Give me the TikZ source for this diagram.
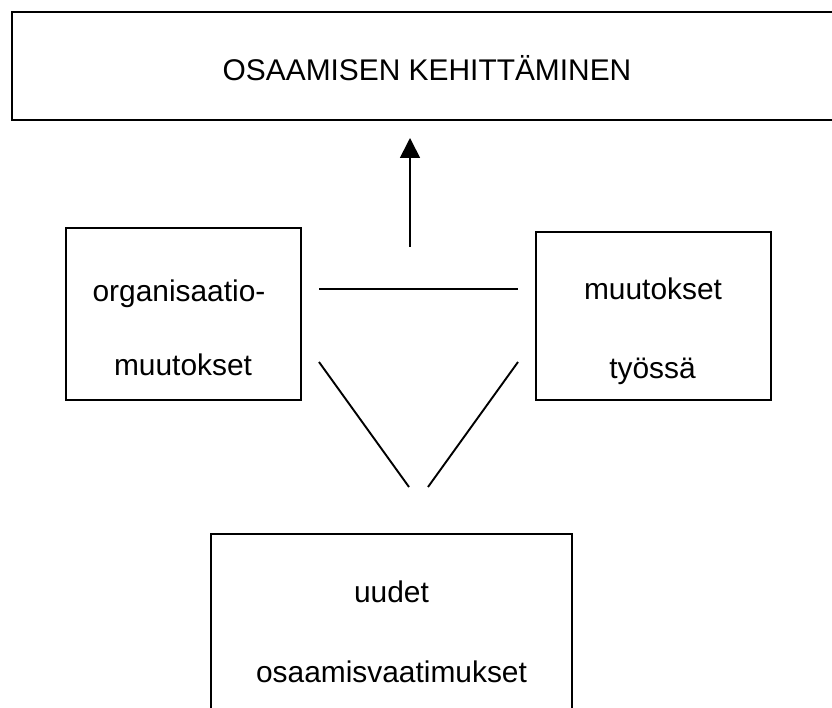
\documentclass[tikz,border=0pt]{standalone}
\usepackage{fontspec}
\setmainfont{Liberation Sans}
\usetikzlibrary{arrows.meta}
\begin{document}
\begin{tikzpicture}[x=1pt,y=-1pt,
  box/.style={draw, line width=1.7pt, inner sep=0pt, outer sep=0pt},
  lbl/.style={anchor=base, inner sep=0pt, font=\fontsize{29.9}{36}\selectfont},
  conn/.style={line width=1.9pt},
  arr/.style={line width=1.7pt, -{Triangle[width=20pt,length=20pt]}}]
\useasboundingbox (0,0) rectangle (832,708);
\clip (0,0) rectangle (832,708);
% boxes
\node[box, minimum width=828pt, minimum height=108pt] (top) at (426,66) {};
\node[box, minimum width=235pt, minimum height=172pt] (left) at (183.5,314) {};
\node[box, minimum width=235pt, minimum height=168pt] (right) at (653.5,316) {};
\node[box, minimum width=361pt, minimum height=200pt] (bottom) at (391.5,634) {};
% labels
\node[lbl] (ttop) at (427,81) {OSAAMISEN KEHITTÄMINEN};
\node[lbl] (tl1) at (179,302) {organisaatio-};
\node[lbl] (tl2) at (183,375) {muutokset};
\node[lbl] (tr1) at (653,300) {muutokset};
\node[lbl] (tr2) at (652.5,378) {työssä};
\node[lbl] (tb1) at (391.5,602) {uudet};
\node[lbl] (tb2) at (391.5,682) {osaamisvaatimukset};
% connector end points
\coordinate (hA) at (319,289);
\coordinate (hB) at (518,289);
\coordinate (dL1) at (319,362);
\coordinate (dL2) at (409,487);
\coordinate (dR1) at (518,362);
\coordinate (dR2) at (428,487);
\coordinate (aS) at (410,247);
\coordinate (aE) at (410,138);
\draw[conn] (hA) -- (hB);
\draw[conn] (dL1) -- (dL2);
\draw[conn] (dR1) -- (dR2);
\draw[arr] (aS) -- (aE);
\end{tikzpicture}
\end{document}
